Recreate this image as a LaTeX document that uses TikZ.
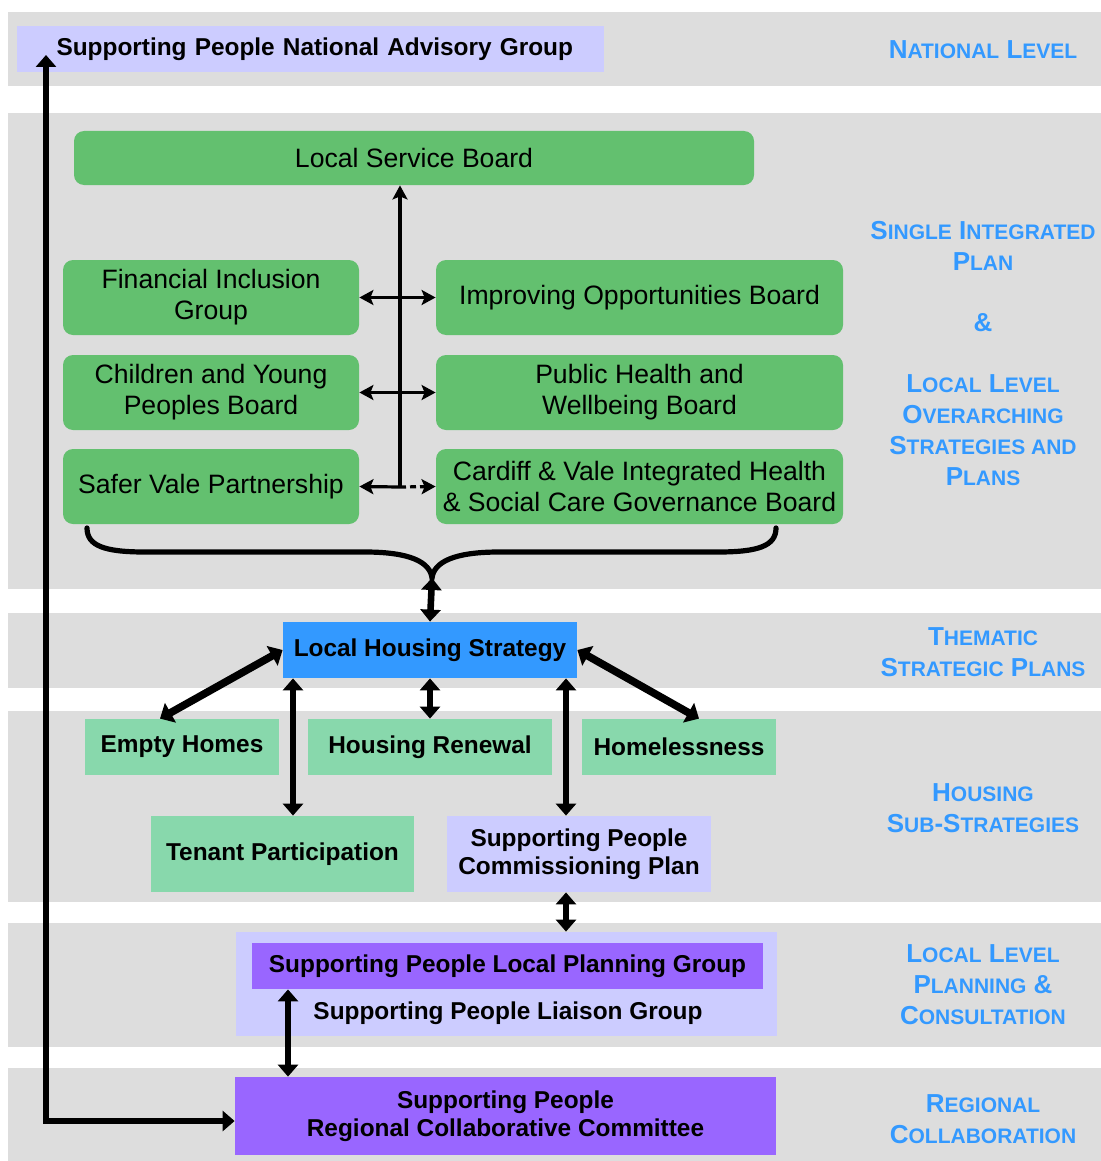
\documentclass[tikz,border=0pt]{standalone}
\usepackage{fontspec}
\setmainfont{Liberation Sans}
\usetikzlibrary{arrows.meta}

\definecolor{bandgray}{RGB}{221,221,221}
\definecolor{boardgreen}{RGB}{99,192,111}
\definecolor{subgreen}{RGB}{136,216,172}
\definecolor{lavender}{RGB}{204,204,255}
\definecolor{lhsblue}{RGB}{51,153,255}
\definecolor{sppurple}{RGB}{153,102,255}
\definecolor{levelblue}{RGB}{51,153,255}

\newcommand{\smc}[2]{{\fontsize{13}{15.5}\selectfont #1}{\fontsize{10.5}{15.5}\selectfont #2}}

\begin{document}
\begin{tikzpicture}[x=0.5pt, y=-0.5pt,
    band/.style={fill=bandgray, draw=none},
    board/.style={fill=boardgreen, rounded corners=5pt, inner sep=0pt, align=center, font=\fontsize{13.3}{15.5}\selectfont},
    plan/.style={inner sep=0pt, align=center, font=\bfseries\fontsize{12.2}{14}\selectfont},
    level/.style={text=levelblue, align=center, font=\bfseries\fontsize{13}{15.5}\selectfont},
    thintip/.style={line width=1.6pt, >={Stealth[length=7pt,width=7.5pt,inset=1.5pt]}},
    thicktip/.style={line width=3.3pt, >={Triangle[length=6pt,width=10pt]}},
    diagtip/.style={line width=3.8pt, >={Triangle[length=6pt,width=11pt]}}]
	\useasboundingbox (0,0) rectangle (1101,1161);
	\fill[band] (8,12) rectangle (1101,86);
	\fill[band] (8,113) rectangle (1101,589);
	\fill[band] (8,613) rectangle (1101,688);
	\fill[band] (8,711) rectangle (1101,902);
	\fill[band] (8,923) rectangle (1101,1047);
	\fill[band] (8,1068) rectangle (1101,1161);

	\node[plan, fill=lavender, minimum height=23pt, text width=254pt, inner xsep=19.75pt, align=left] (nag) at (310.5,49) {\mbox{Supporting People National Advisory Group}};

	\node[board, minimum width=340pt, minimum height=27pt] (lsb) at (414,158) {Local Service Board};
	\node[board, minimum width=148pt, minimum height=37.5pt] (fig) at (211,297.5) {Financial Inclusion\\Group};
	\node[board, minimum width=203.5pt, minimum height=37.5pt] (iob) at (639.5,297.5) {Improving Opportunities Board};
	\node[board, minimum width=148pt, minimum height=37.5pt] (cyp) at (211,392.5) {Children and Young\\Peoples Board};
	\node[board, minimum width=203.5pt, minimum height=37.5pt] (phw) at (639.5,392.5) {Public Health and\\Wellbeing Board};
	\node[board, minimum width=148pt, minimum height=37.5pt] (svp) at (211,486.5) {Safer Vale Partnership};
	\node[board, minimum width=203.5pt, minimum height=37.5pt] (cvi) at (639.5,486.5) {Cardiff \& Vale Integrated Health\\\& Social Care Governance Board};

	\node[plan, fill=lhsblue, minimum width=147pt, minimum height=28pt] (lhs) at (430,650) {Local Housing Strategy};
	\node[plan, fill=subgreen, minimum width=97pt, minimum height=28pt] (emp) at (182,747) {Empty Homes};
	\node[plan, fill=subgreen, minimum width=122pt, minimum height=28pt] (hren) at (430,747) {Housing Renewal};
	\node[plan, fill=subgreen, minimum width=97pt, minimum height=28pt] (hless) at (679,747) {Homelessness};
	\node[plan, fill=subgreen, minimum width=131.5pt, minimum height=38pt] (tp) at (282.5,854) {Tenant Participation};
	\node[plan, fill=lavender, minimum width=132pt, minimum height=38pt] (spcp) at (579,854) {Supporting People\\Commissioning Plan};

	\node[fill=lavender, inner sep=0pt, minimum width=270.5pt, minimum height=52pt] (lpo) at (506.5,984) {};
	\node[plan, fill=sppurple, minimum width=255.5pt, minimum height=23pt] (lpg) at (507.5,966) {Supporting People Local Planning Group};
	\node[plan] (liaison) at (508,1013) {Supporting People Liaison Group};
	\node[plan, fill=sppurple, minimum width=270.5pt, minimum height=39pt] (rcc) at (505.5,1116) {Supporting People\\Regional Collaborative Committee};

	\node[level] (lnat) at (983,50) {\smc{N}{ATIONAL} \smc{L}{EVEL}};
	\node[level] (lsip) at (983,354) {\smc{S}{INGLE} \smc{I}{NTEGRATED}\\\smc{P}{LAN}\\[15pt]\smc{\&}{}\\[15pt]\smc{L}{OCAL} \smc{L}{EVEL}\\\smc{O}{VERARCHING}\\\smc{S}{TRATEGIES AND}\\\smc{P}{LANS}};
	\node[level] (lthem) at (983,652.5) {\smc{T}{HEMATIC}\\\smc{S}{TRATEGIC} \smc{P}{LANS}};
	\node[level] (lsub) at (983,808.5) {\smc{H}{OUSING}\\\smc{S}{UB}-\smc{S}{TRATEGIES}};
	\node[level] (lloc) at (983,985) {\smc{L}{OCAL} \smc{L}{EVEL}\\\smc{P}{LANNING} \smc{\&}{}\\\smc{C}{ONSULTATION}};
	\node[level] (lreg) at (983,1119) {\smc{R}{EGIONAL}\\\smc{C}{OLLABORATION}};

	\coordinate (spine) at (400,487);
	\draw[thintip, ->] (spine) -- (lsb.south -| spine);
	\draw[thintip, <->] (fig.east) -- (iob.west);
	\draw[thintip, <->] (cyp.east) -- (phw.west);
	\draw[thintip, ->] (spine) -- (svp.east);
	\draw[thintip, ->, dash pattern=on 3pt off 2pt] (spine) -- (cvi.west);

	\coordinate (bracetip) at (432,578);
	\draw[line width=2.6pt, line cap=round] (87,528) .. controls (87,546) and (105,552) .. (145,552) -- (365,552) .. controls (410,552) and (430,562) .. (bracetip) .. controls (434,562) and (454,552) .. (499,552) -- (718,552) .. controls (758,552) and (776,546) .. (776,528);
	\draw[thicktip, <->] (bracetip) -- (lhs.north);

	\coordinate (tpx) at (293,0);
	\coordinate (spx) at (566,0);
	\coordinate (lgx) at (288,0);
	\draw[diagtip, <->] (lhs.west) -- ([xshift=-11pt]emp.north);
	\draw[diagtip, <->] (lhs.east) -- ([xshift=10pt]hless.north);
	\draw[thicktip, <->] (lhs.south) -- (hren.north);
	\draw[thicktip, <->] (lhs.south -| tpx) -- (tp.north -| tpx);
	\draw[thicktip, <->] (lhs.south -| spx) -- (spcp.north -| spx);
	\draw[thicktip, <->] (spcp.south -| spx) -- (lpo.north -| spx);
	\draw[thicktip, <->] (lpg.south -| lgx) -- (rcc.north -| lgx);

	\coordinate (advtip) at (46,55);
	\draw[thicktip, <->] (advtip) |- ([yshift=-2.5pt]rcc.west);
\end{tikzpicture}
\end{document}
